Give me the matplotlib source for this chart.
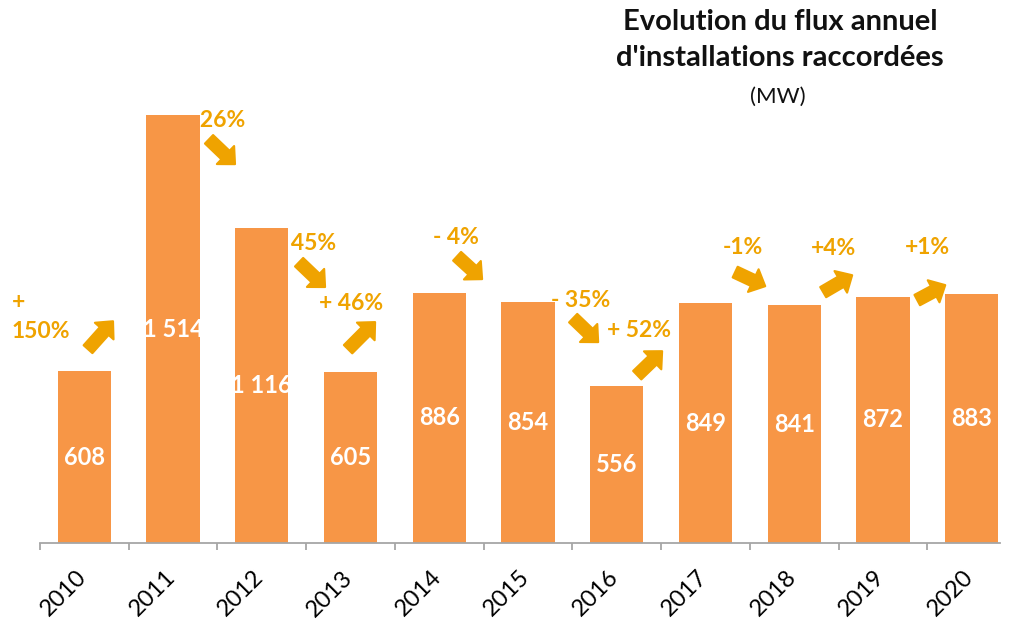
import matplotlib.pyplot as plt
import numpy as np
from matplotlib.patches import FancyArrowPatch
from matplotlib.transforms import ScaledTranslation

years = ['2010', '2011', '2012', '2013', '2014', '2015', '2016', '2017', '2018', '2019', '2020']
values = [608, 1514, 1116, 605, 886, 854, 556, 849, 841, 872, 883]
value_labels = ['608', '1 514', '1 116', '605', '886', '854', '556', '849', '841', '872', '883']
pct_labels = ['+\n150%', '- 26%', '- 45%', '+ 46%', '- 4%', '- 35%', '+ 52%', '-1%', '+4%', '+1%']

# where each variation label / arrow sits (layout only)
pct_pos = [(-0.816, 801), (1.484, 1496), (2.51, 1061), (3.006, 849), (4.19, 1082),
           (5.588, 860), (6.253, 753), (7.426, 1047), (8.44, 1044), (9.5, 1047)]
pct_ha = ['left'] + ['center'] * 9
arrows = [((0.041, 686), (0.323, 785)), ((1.405, 1429), (1.698, 1341)),
          ((2.42, 994), (2.713, 906)), ((2.972, 686), (3.277, 782)),
          ((4.201, 1015), (4.483, 934)), ((5.509, 796), (5.791, 711)),
          ((6.231, 594), (6.512, 679)), ((7.335, 959), (7.674, 909)),
          ((8.327, 888), (8.654, 948)), ((9.387, 860), (9.703, 913))]

bar_color = '#F79646'
pct_color = '#EFA300'

plt.rcParams['font.family'] = ['Lato', 'DejaVu Sans']

fig = plt.figure(figsize=(10.09, 6.23), dpi=100)
ax = fig.add_axes([40 / 1009, 80 / 623, 960 / 1009, 452 / 623])

x = np.arange(len(years))
ax.bar(x, values, width=0.6, color=bar_color, zorder=2)

for i, (v, lab) in enumerate(zip(values, value_labels)):
    ax.text(i, v / 2, lab, ha='center', va='center', color='white',
            fontsize=17, fontweight='bold', zorder=3)

for lab, (px, py), ha in zip(pct_labels, pct_pos, pct_ha):
    ax.text(px, py, lab, ha=ha, va='center', color=pct_color, fontsize=16.5,
            fontweight='bold', linespacing=1.45, zorder=1, clip_on=False)

for start, end in arrows:
    arr = FancyArrowPatch(start, end, arrowstyle='simple,head_length=0.95,head_width=1.8,tail_width=0.85',
                          mutation_scale=10, color=pct_color, lw=1.5, joinstyle='round',
                          shrinkA=0, shrinkB=0, zorder=1, clip_on=False)
    ax.add_patch(arr)

ax.set_xlim(-0.5, 10.32)
ax.set_ylim(0, 1600)
for s in ['top', 'right', 'left']:
    ax.spines[s].set_visible(False)
ax.spines['bottom'].set_color('#A6A6A6')
ax.spines['bottom'].set_linewidth(1.3)
ax.set_yticks([])

ax.set_xticks(x)
ax.set_xticks(np.arange(-0.5, 10.0, 1), minor=True)
ax.tick_params(axis='x', which='major', length=0, pad=17, labelsize=17)
ax.tick_params(axis='x', which='minor', length=5, color='#A6A6A6', width=1.3)
ax.set_xticklabels(years, rotation=45, ha='right')
offset = ScaledTranslation(6 / 100, 0, fig.dpi_scale_trans)
for t in ax.get_xticklabels():
    t.set_transform(t.get_transform() + offset)

fig.text(780 / 1009, 1 - 22 / 623, 'Evolution du flux annuel', ha='center', va='center',
         fontsize=21, fontweight='bold', color='#111111')
fig.text(780 / 1009, 1 - 58 / 623, "d'installations raccordées", ha='center', va='center',
         fontsize=21, fontweight='bold', color='#111111')
fig.text(778 / 1009, 1 - 97 / 623, '(MW)', ha='center', va='center',
         fontsize=16, color='#111111')

fig.savefig('out.png', dpi=100)
